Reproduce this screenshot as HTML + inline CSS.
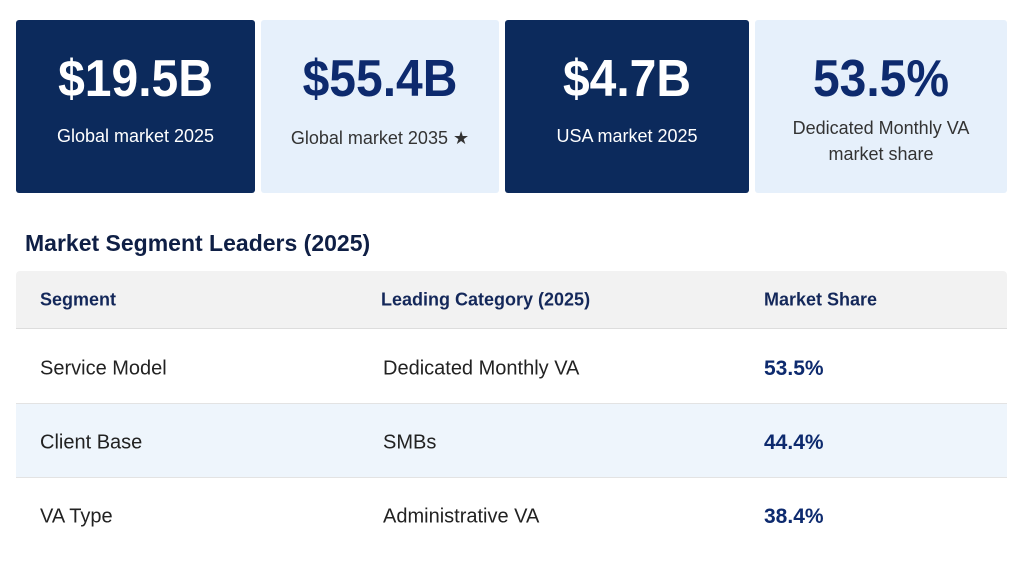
<!DOCTYPE html>
<html><head><style>
body{margin:0;width:1024px;height:562px;background:#fff;font-family:"Liberation Sans",Arial,sans-serif;position:relative;overflow:hidden}
.c{position:absolute;top:20px;height:173px;border-radius:3px;text-align:center}
.d{background:#0c2a5c;color:#fff}
.l{background:#e6f0fb;color:#0d2a6e}
.n{position:absolute;left:0;right:0;top:60px;font-size:48px;font-weight:bold;line-height:50px;transform:translateY(-50%) scaleY(1.08)}
.t{position:absolute;left:0;right:0;font-size:18px;line-height:26px}
.l .t{color:#333}
h2{position:absolute;left:25px;top:230px;margin:0;font-size:23px;color:#0f1f45}
.row{position:absolute;left:16px;width:991px;font-size:20px;color:#222}
.row span{position:absolute;top:50%;transform:translateY(-50%)}
.h{background:#f2f2f2;border-radius:4px 4px 0 0;border-bottom:1px solid #ddd}
.h span{font-weight:bold;font-size:18px;color:#14285a}
.v{font-weight:bold;color:#0d2a6e;font-size:21px}
</style></head><body>
<div class="c d" style="left:16px;width:239px"><div class="n">$19.5B</div><div class="t" style="top:103px">Global market 2025</div></div>
<div class="c l" style="left:261px;width:238px"><div class="n">$55.4B</div><div class="t" style="top:105px">Global market 2035 ★</div></div>
<div class="c d" style="left:505px;width:244px"><div class="n">$4.7B</div><div class="t" style="top:103px">USA market 2025</div></div>
<div class="c l" style="left:755px;width:252px"><div class="n">53.5%</div><div class="t" style="top:95px">Dedicated Monthly VA<br>market share</div></div>
<h2>Market Segment Leaders (2025)</h2>
<div class="row h" style="top:271px;height:57px"><span style="left:24px">Segment</span><span style="left:365px">Leading Category (2025)</span><span style="left:748px">Market Share</span></div>
<div class="row" style="top:329px;height:74px;border-bottom:1px solid #e3e3e3"><span style="left:24px;margin-top:3px">Service Model</span><span style="left:367px;margin-top:3px">Dedicated Monthly VA</span><span class="v" style="left:748px;margin-top:3px">53.5%</span></div>
<div class="row" style="top:404px;height:73px;background:#eef5fc;border-bottom:1px solid #e3e3e3"><span style="left:24px;margin-top:2px">Client Base</span><span style="left:367px;margin-top:2px">SMBs</span><span class="v" style="left:748px;margin-top:2px">44.4%</span></div>
<div class="row" style="top:478px;height:77px"><span style="left:24px">VA Type</span><span style="left:367px">Administrative VA</span><span class="v" style="left:748px">38.4%</span></div>
</body></html>
